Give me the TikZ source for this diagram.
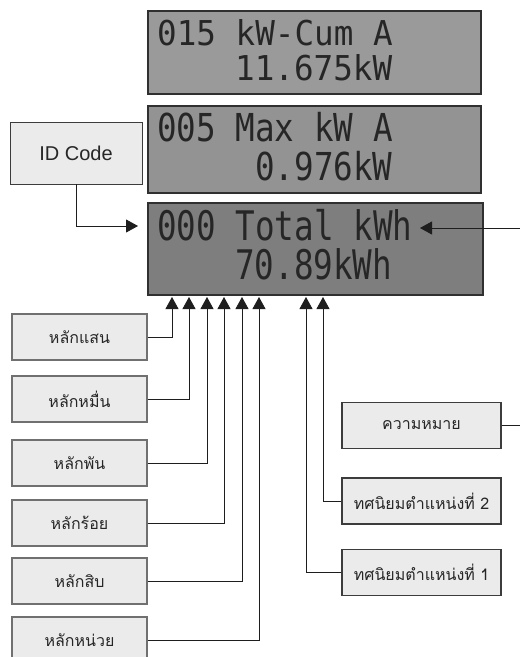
\documentclass[tikz,border=0pt]{standalone}
\usepackage{fontspec}
\usepackage{xcolor}
\usepackage{graphicx}
\usepackage{tikz}
\usetikzlibrary{arrows.meta, positioning}
\newfontfamily\thaifont[Script=Thai]{Loma}
\newfontfamily\lcdfont{DejaVu Sans Mono}
\newfontfamily\labelfont{Liberation Sans}
\definecolor{lcdgreya}{HTML}{9A9A9A}
\definecolor{lcdgreyb}{HTML}{939393}
\definecolor{lcdgreyc}{HTML}{7E7E7E}
\definecolor{lcdedge}{HTML}{303030}
\definecolor{lcdink}{HTML}{262626}
\definecolor{boxfill}{HTML}{EBEBEB}
\definecolor{boxedge}{HTML}{707070}
\definecolor{boxdark}{HTML}{3C3C3C}
\definecolor{wireink}{HTML}{1E1E1E}

\begin{document}
\begin{tikzpicture}[x=1pt, y=-1pt,
    lcdpanel/.style={draw=lcdedge, line width=2pt, inner sep=0pt, minimum width=333pt, anchor=north west},
    lcdtxt/.style={font=\lcdfont\fontsize{32.6}{36}\selectfont, text=lcdink, inner sep=0pt, anchor=base west},
    digitbox/.style={draw=boxedge, line width=1.4pt, fill=boxfill, minimum width=135pt, minimum height=46pt, inner sep=0pt, text=black!85, font=\thaifont\fontsize{16}{20}\selectfont},
    notebox/.style={digitbox, draw=boxdark, line width=1.1pt, minimum width=159pt},
    idbox/.style={digitbox, draw=boxdark, line width=0.9pt, minimum width=132pt, minimum height=62pt, font=\labelfont\fontsize{20}{24}\selectfont},
    wire/.style={draw=wireink, line width=0.8pt},
    tip/.style={wire, -{Triangle[length=12pt, width=13pt]}}]
  \useasboundingbox (0,0) rectangle (520,657);

  % three photographed LCD screens
  \node[lcdpanel, fill=lcdgreya, minimum height=83pt] (panelcum) at (147,10) {};
  \node[lcdpanel, fill=lcdgreyb, minimum height=87pt] (panelmax) at (147,105) {};
  \node[lcdpanel, fill=lcdgreyc, minimum width=335pt, minimum height=92pt] (paneltotal) at (147,202) {};

  \node[lcdtxt] (cumhead) at (157,45) {\scalebox{1}[1.05]{015 kW-Cum A}};
  \node[lcdtxt] (cumvalue) at (235,80) {\scalebox{1}[1.05]{11.675kW}};
  \node[lcdtxt] (maxhead) at (157,141) {\scalebox{1}[1.18]{005 Max kW A}};
  \node[lcdtxt] (maxvalue) at (255,180) {\scalebox{1}[1.18]{0.976kW}};
  \node[lcdtxt] (totalhead) at (157,240) {\scalebox{1}[1.25]{000 Total kWh}};
  \node[lcdtxt] (totalvalue) at (235,279) {\scalebox{1}[1.25]{70.89kWh}};

  % digit positions under the bottom screen
  \coordinate (dsaen) at (172,297);
  \coordinate (dmuen) at (189,297);
  \coordinate (dphan) at (207,297);
  \coordinate (droi) at (224,297);
  \coordinate (dsip) at (242,297);
  \coordinate (dnuai) at (259,297);
  \coordinate (ddeca) at (306,297);
  \coordinate (ddecb) at (323,297);
  \coordinate (idtip) at (138,226);
  \coordinate (kwhtip) at (420,228);
  \coordinate (farside) at (527,228);

  \node[idbox] (idcode) at (76,153) {ID Code};

  \node[digitbox] (hsaen) at (79.5,337) {หลักแสน};
  \node[digitbox] (hmuen) at (79.5,399) {หลักหมื่น};
  \node[digitbox] (hphan) at (79.5,463) {หลักพัน};
  \node[digitbox] (hroi) at (79.5,523) {หลักร้อย};
  \node[digitbox] (hsip) at (79.5,581) {หลักสิบ};
  \node[digitbox] (hnuai) at (79.5,640) {หลักหน่วย};

  \node[notebox] (khwam) at (421.5,425.5) {ความหมาย};
  \node[notebox] (decb) at (421.5,501) {ทศนิยมตำแหน่งที่ 2};
  \node[notebox] (deca) at (421.5,572.5) {ทศนิยมตำแหน่งที่ 1};

  \draw[tip] (idcode.south) |- (idtip);
  \draw[tip] (hsaen.east) -| (dsaen);
  \draw[tip] (hmuen.east) -| (dmuen);
  \draw[tip] (hphan.east) -| (dphan);
  \draw[tip] (hroi.east) -| (droi);
  \draw[tip] (hsip.east) -| (dsip);
  \draw[tip] (hnuai.east) -| (dnuai);
  \draw[tip] (decb.west) -| (ddecb);
  \draw[tip] (deca.west) -| (ddeca);
  \draw[tip] (khwam.east) -| (farside) -- (kwhtip);
\end{tikzpicture}
\end{document}
